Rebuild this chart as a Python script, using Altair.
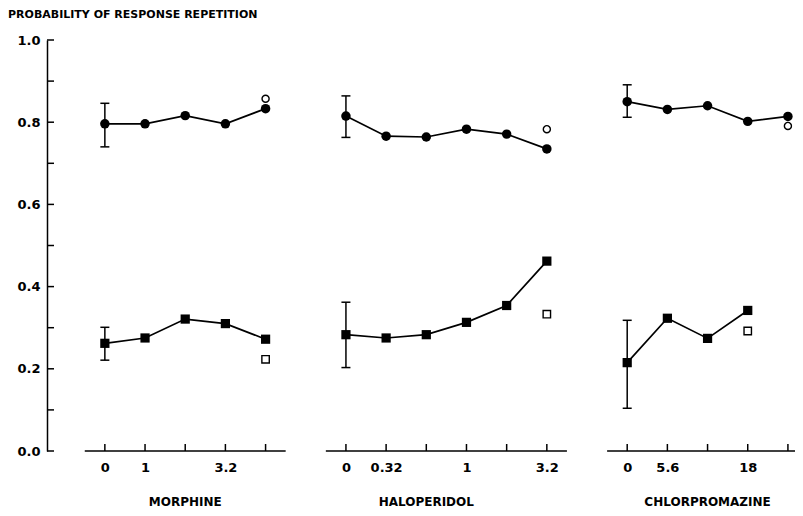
import altair as alt
import pandas as pd

# ---------------- data ----------------
title_text = "PROBABILITY OF RESPONSE REPETITION"
drugs = ["MORPHINE", "HALOPERIDOL", "CHLORPROMAZINE"]

morphine_doses = ["0", "1", "", "3.2", ""]
haloperidol_doses = ["0", "0.32", "", "1", "", "3.2"]
chlorpromazine_doses = ["0", "5.6", "", "18", ""]

morphine_circle = [0.796, 0.796, 0.816, 0.796, 0.833]
haloperidol_circle = [0.815, 0.766, 0.764, 0.783, 0.771, 0.735]
chlorpromazine_circle = [0.850, 0.831, 0.840, 0.802, 0.814]

morphine_square = [0.262, 0.275, 0.321, 0.310, 0.272]
haloperidol_square = [0.283, 0.275, 0.283, 0.313, 0.354, 0.462]
chlorpromazine_square = [0.215, 0.323, 0.274, 0.342, None]

morphine_open_circle = [None, None, None, None, 0.857]
haloperidol_open_circle = [None, None, None, None, None, 0.783]
chlorpromazine_open_circle = [None, None, None, None, 0.791]

morphine_open_square = [None, None, None, None, 0.223]
haloperidol_open_square = [None, None, None, None, None, 0.333]
chlorpromazine_open_square = [None, None, None, 0.292, None]

# error bars at dose 0: (low, high)
morphine_circle_err = (0.740, 0.846)
haloperidol_circle_err = (0.763, 0.864)
chlorpromazine_circle_err = (0.812, 0.891)
morphine_square_err = (0.221, 0.301)
haloperidol_square_err = (0.203, 0.362)
chlorpromazine_square_err = (0.104, 0.318)

y_tick_values = [0.0, 0.1, 0.2, 0.3, 0.4, 0.5, 0.6, 0.7, 0.8, 0.9, 1.0]
y_label_values = [0.0, 0.2, 0.4, 0.6, 0.8, 1.0]

# ---------------- tables ----------------
doses = [morphine_doses, haloperidol_doses, chlorpromazine_doses]
circles = [morphine_circle, haloperidol_circle, chlorpromazine_circle]
squares = [morphine_square, haloperidol_square, chlorpromazine_square]
open_circles = [morphine_open_circle, haloperidol_open_circle, chlorpromazine_open_circle]
open_squares = [morphine_open_square, haloperidol_open_square, chlorpromazine_open_square]
circle_errs = [morphine_circle_err, haloperidol_circle_err, chlorpromazine_circle_err]
square_errs = [morphine_square_err, haloperidol_square_err, chlorpromazine_square_err]

pts, opn, ticks, labels, segs, names, errs = [], [], [], [], [], [], []
offset = 0
for d, drug in enumerate(drugs):
    n = len(doses[d])
    pos = [offset + i for i in range(n)]
    for i in range(n):
        ticks.append({"pos": pos[i]})
        if doses[d][i]:
            labels.append((pos[i], doses[d][i]))
        for series, vals in (("circle", circles[d]), ("square", squares[d])):
            if vals[i] is not None:
                pts.append({"pos": pos[i], "value": vals[i], "series": series,
                            "group": drug + series})
        for series, vals in (("circle", open_circles[d]), ("square", open_squares[d])):
            if vals[i] is not None:
                opn.append({"pos": pos[i], "value": vals[i], "series": series})
    for lo_hi in (circle_errs[d], square_errs[d]):
        errs.append({"pos": pos[0], "lo": lo_hi[0], "hi": lo_hi[1]})
    segs.append({"start": pos[0] - 0.5, "end": pos[-1] + 0.5})
    names.append({"pos": pos[(n - 1) // 2], "name": drug})
    offset += n + 1

pts = pd.DataFrame(pts)
opn = pd.DataFrame(opn)
ticks = pd.DataFrame(ticks)
segs = pd.DataFrame(segs)
names = pd.DataFrame(names)
errs = pd.DataFrame(errs)
caps = pd.concat([errs[["pos", "lo"]].rename(columns={"lo": "value"}),
                  errs[["pos", "hi"]].rename(columns={"hi": "value"})])
ytk = pd.DataFrame({"value": y_tick_values})
ttl = pd.DataFrame({"t": [title_text]})

W, H = 748, 411
x_min = -1.44
x_max = x_min + W / 40.18

label_expr = " : ".join(f"datum.value == {p} ? '{t}'" for p, t in labels) + " : ''"

FONT = "DejaVu Sans"
x_scale = alt.Scale(domain=[x_min, x_max], nice=False, zero=False)
y_scale = alt.Scale(domain=[0, 1], nice=False, zero=False)

x_axis = alt.Axis(title=None, orient="bottom", domain=False, ticks=False, grid=False,
                  values=[p for p, _ in labels], labelExpr=label_expr,
                  labelFont=FONT, labelFontWeight="bold", labelFontSize=13,
                  labelColor="black", labelPadding=10, labelFlush=False,
                  labelOverlap=False, labelBound=False)
y_axis = alt.Axis(title=None, orient="left", grid=False, ticks=False,
                  values=y_label_values, format=".1f", labelFont=FONT,
                  labelFontWeight="bold", labelFontSize=13, labelColor="black",
                  labelPadding=7, domainColor="black", domainWidth=1.5)

X = alt.X("pos:Q", scale=x_scale, axis=x_axis)
Y = alt.Y("value:Q", scale=y_scale, axis=y_axis)

lines = alt.Chart(pts).mark_line(color="black", strokeWidth=1.7).encode(
    x=X, y=Y, detail="group:N", order="pos:Q")

filled_c = alt.Chart(pts[pts.series == "circle"]).mark_point(
    shape="circle", filled=True, color="black", size=90, opacity=1).encode(x=X, y=Y)
filled_s = alt.Chart(pts[pts.series == "square"]).mark_point(
    shape="square", filled=True, color="black", size=85, opacity=1).encode(x=X, y=Y)
open_c = alt.Chart(opn[opn.series == "circle"]).mark_point(
    shape="circle", filled=True, fill="white", stroke="black", strokeWidth=1.4,
    size=50, opacity=1).encode(x=X, y=Y)
open_s = alt.Chart(opn[opn.series == "square"]).mark_point(
    shape="square", filled=True, fill="white", stroke="black", strokeWidth=1.4,
    size=55, opacity=1).encode(x=X, y=Y)

err_rules = alt.Chart(errs).mark_rule(color="black", strokeWidth=1.5).encode(
    x=X, y=alt.Y("lo:Q", scale=y_scale, axis=y_axis), y2="hi:Q")
err_caps = alt.Chart(caps).mark_tick(
    orient="horizontal", color="black", size=9, thickness=1.5, opacity=1).encode(x=X, y=Y)

baselines = alt.Chart(segs).mark_rule(color="black", strokeWidth=1.5).encode(
    x=alt.X("start:Q", scale=x_scale, axis=x_axis), x2="end:Q", y=alt.datum(0))
x_ticks = alt.Chart(ticks).mark_rule(color="black", strokeWidth=1.5).encode(
    x=X, y=alt.datum(0), y2=alt.datum(0.017))
y_ticks = alt.Chart(ytk).mark_rule(color="black", strokeWidth=1.5).encode(
    y=Y, x=alt.value(0), x2=alt.value(7))

name_text = alt.Chart(names).mark_text(
    font=FONT, fontWeight="bold", fontSize=12, color="black",
    baseline="middle", align="center").encode(
    x=X, y=alt.value(H + 51), text="name:N")

title_mark = alt.Chart(ttl).mark_text(
    font=FONT, fontWeight="bold", fontSize=11, color="black",
    baseline="alphabetic", align="left").encode(
    x=alt.value(-39), y=alt.value(-22), text="t:N")

chart = alt.layer(
    lines, baselines, x_ticks, y_ticks, err_rules, err_caps,
    filled_c, filled_s, open_c, open_s, name_text, title_mark
).properties(
    width=W, height=H,
    background="white",
    autosize=alt.AutoSizeParams(type="none"),
    padding={"left": 39, "top": 32, "right": 0, "bottom": 57},
).configure_view(stroke=None)

chart.save("out.html", embed_options={"renderer": "svg", "actions": False})
